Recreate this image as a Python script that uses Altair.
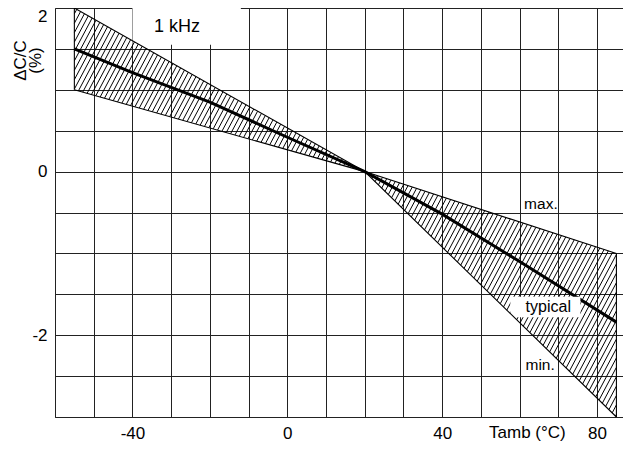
import numpy as np
import pandas as pd
import altair as alt

# ---- data ----
edge_temp = [-55, 20, 85]
max_vals = [2.0, 0.0, -1.0]
min_vals = [1.0, 0.0, -3.0]
typ_temp = [-55, -40, -20, 0, 20, 40, 60, 85]
typ_vals = [1.5, 1.21, 0.85, 0.42, 0.0, -0.52, -1.1, -1.84]

x_ticks = [-40, 0, 40, 80]
y_ticks = [2, 0, -2]
x_grid = list(range(-60, 81, 10))
y_grid = [-3, -2.5, -2, -1.5, -1, -0.5, 0, 0.5, 1, 1.5, 2]

X_DOM = [-60, 86.7]
Y_DOM = [-3, 2]
W, H = 568, 409
FONT = "Liberation Sans"

# ---- hatch lines clipped to the band (computed from the band data) ----
sx = W / (X_DOM[1] - X_DOM[0])
sy = H / (Y_DOM[1] - Y_DOM[0])
k = np.tan(np.radians(62))
gap_px = 5.0
xs = np.linspace(edge_temp[0], edge_temp[-1], 28001)
up = np.interp(xs, edge_temp, max_vals)
lo = np.interp(xs, edge_temp, min_vals)
px = (xs - X_DOM[0]) * sx
cu = (up - Y_DOM[0]) * sy - k * px
cl = (lo - Y_DOM[0]) * sy - k * px
cstep = k * gap_px
c0 = np.floor(cl.min() / cstep) * cstep
segs = []
for c in np.arange(c0, cu.max() + cstep, cstep):
    yh = (c + k * px) / sy + Y_DOM[0]
    inside = (yh >= lo - 1e-9) & (yh <= up + 1e-9)
    idx = np.nonzero(inside)[0]
    if len(idx) < 2:
        continue
    breaks = np.where(np.diff(idx) > 1)[0]
    starts = np.concatenate([[idx[0]], idx[breaks + 1]])
    ends = np.concatenate([idx[breaks], [idx[-1]]])
    for a, b in zip(starts, ends):
        if b - a < 3:
            continue
        segs.append({"x": xs[a], "y": yh[a], "x2": xs[b], "y2": yh[b]})
hatch = pd.DataFrame(segs)

band = pd.DataFrame({"t": edge_temp, "mx": max_vals, "mn": min_vals})
typ = pd.DataFrame({"t": typ_temp, "v": typ_vals})
edges = pd.DataFrame({"t": [edge_temp[0], edge_temp[-1]],
                      "mx": [max_vals[0], max_vals[-1]],
                      "mn": [min_vals[0], min_vals[-1]]})

xlab = " : ".join([f"datum.value == {v} ? '{v}'" for v in x_ticks]) + " : ''"
ylab = " : ".join([f"datum.value == {v} ? '{v}'" for v in y_ticks]) + " : ''"

x_axis = alt.Axis(values=x_grid, labelExpr=xlab, grid=True, gridColor="#222",
                  gridWidth=1, ticks=False, tickSize=0, domainColor="#222",
                  labelFont=FONT, labelFontSize=17, labelColor="black",
                  labelPadding=8, labelFlush=False, title=None)
y_axis = alt.Axis(values=y_grid, labelExpr=ylab, grid=True, gridColor="#222",
                  gridWidth=1, ticks=False, tickSize=0, domainColor="#222",
                  labelFont=FONT, labelFontSize=17, labelColor="black",
                  labelPadding=8, labelFlush=True, labelFlushOffset=0,
                  title=["ΔC/C", "(%)"], titleFont=FONT, titleFontSize=17,
                  titleFontWeight="normal", titleColor="black",
                  titleX=-26, titleY=52, titleLineHeight=15)

xs_scale = alt.Scale(domain=X_DOM, nice=False, zero=False)
ys_scale = alt.Scale(domain=Y_DOM, nice=False, zero=False)


def X(f):
    return alt.X(f, type="quantitative", scale=xs_scale, axis=x_axis)


def Y(f):
    return alt.Y(f, type="quantitative", scale=ys_scale, axis=y_axis)


boxes = pd.DataFrame({"x": [-40, 57.6], "x2": [-12, 75.7],
                      "y": [1.55, -1.53], "y2": [2.0, -1.78]})
khz_box = alt.Chart(boxes.iloc[[0]]).mark_rect(color="white").encode(
    x=X("x"), x2="x2", y=Y("y"), y2="y2")
typ_box = alt.Chart(boxes.iloc[[1]]).mark_rect(color="white").encode(
    x=X("x"), x2="x2", y=Y("y"), y2="y2")

hatch_layer = alt.Chart(hatch).mark_rule(color="black", strokeWidth=1).encode(
    x=X("x"), y=Y("y"), x2="x2", y2="y2")

max_line = alt.Chart(band).mark_line(color="black", strokeWidth=1.1).encode(
    x=X("t"), y=Y("mx"))
min_line = alt.Chart(band).mark_line(color="black", strokeWidth=1.1).encode(
    x=X("t"), y=Y("mn"))
edge_rules = alt.Chart(edges).mark_rule(color="black", strokeWidth=1.1).encode(
    x=X("t"), y=Y("mx"), y2="mn")
typ_line = alt.Chart(typ).mark_line(color="black", strokeWidth=3).encode(
    x=X("t"), y=Y("v"))

labels = pd.DataFrame({"t": [-28.5, 65.5, 67.4, 65.3],
                       "v": [1.77, -0.39, -1.65, -2.36],
                       "txt": ["1 kHz", "max.", "typical", "min."],
                       "size": [18, 15.5, 16, 15.5]})
texts = alt.Chart(labels).mark_text(font=FONT, color="black", baseline="middle",
                                    align="center").encode(
    x=X("t"), y=Y("v"), text="txt:N",
    size=alt.Size("size:Q", scale=None, legend=None))

xtitle = alt.Chart(pd.DataFrame({"t": [62], "txt": ["Tamb (°C)"]})).mark_text(
    font=FONT, fontSize=17, color="black", baseline="top", align="center").encode(
    x=X("t"), y=alt.value(H + 8), text="txt:N")

chart = alt.layer(khz_box, hatch_layer, typ_line, typ_box, max_line, min_line,
                  edge_rules, texts, xtitle).properties(
    width=W, height=H,
    autosize=alt.AutoSizeParams(type="none"),
    padding={"left": 47, "top": 0, "right": 0, "bottom": 28},
).configure_view(stroke=None)

chart.save("out.html", embed_options={"renderer": "svg", "actions": False})
